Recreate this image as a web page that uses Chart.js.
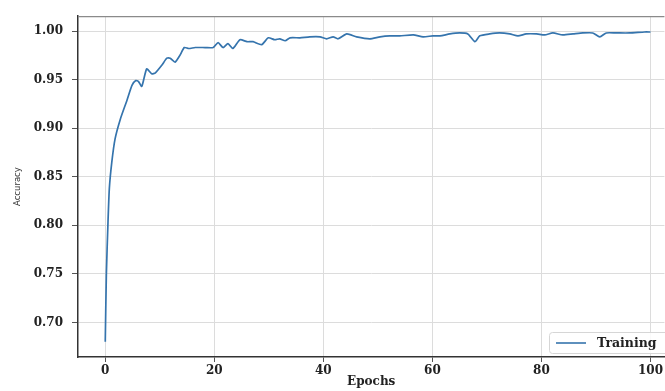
<!DOCTYPE html>
<html>
<head>
<meta charset="utf-8">
<script src="https://cdn.jsdelivr.net/npm/chart.js@4.4.1/dist/chart.umd.min.js"></script>
<style>
html,body{margin:0;padding:0;background:#fff;overflow:hidden;}
#c{display:block;}
</style>
</head>
<body>
<canvas id="c" width="665" height="391"></canvas>
<script>
const seriesLabel = 'Training';
const epochs = [0,0.2,0.5,0.75,1.2,1.8,2.75,4,4.9,5.6,6.1,6.7,7.6,8.5,9.2,10.4,11.3,11.9,12.8,13.7,14.5,15.3,16.5,18.3,19.8,20.7,21.6,22.5,23.4,24.7,26,27.1,28.7,29.9,31.1,32,33,33.9,35.7,37.5,39.4,40.6,41.8,42.7,44.3,46.1,48.5,50.4,52.2,54,56.5,58.3,60.1,61.4,63.2,65,66.5,67.8,68.7,70.5,72.3,74.2,75.7,77.2,79.1,80.6,82.1,83.9,85.8,87.6,89.4,90.7,91.9,93.7,96.2,98.9,100];
const accuracy = [0.680,0.749,0.803,0.838,0.865,0.889,0.909,0.929,0.944,0.949,0.948,0.943,0.961,0.956,0.957,0.965,0.972,0.972,0.968,0.975,0.983,0.982,0.983,0.983,0.983,0.988,0.983,0.987,0.982,0.991,0.989,0.989,0.986,0.993,0.991,0.992,0.990,0.993,0.993,0.994,0.994,0.992,0.994,0.992,0.997,0.994,0.992,0.994,0.995,0.995,0.996,0.994,0.995,0.995,0.997,0.998,0.997,0.989,0.995,0.997,0.998,0.997,0.995,0.997,0.997,0.996,0.998,0.996,0.997,0.998,0.998,0.994,0.998,0.998,0.998,0.999,0.999];
const xTicks = [0,20,40,60,80,100];
const yTicks = [0.70,0.75,0.80,0.85,0.90,0.95,1.00];
const yTickLabels = ['0.70','0.75','0.80','0.85','0.90','0.95','1.00'];
const xTitle = 'Epochs';
const yTitle = 'Accuracy';

const LINE_COLOR = '#3574ad';
const tickFont = {family:'DejaVu Serif', weight:'bold', size:12};

const framePlugin = {
  id:'frame',
  afterDatasetsDraw(chart){
    const {ctx, chartArea:a} = chart;
    ctx.save();
    ctx.strokeStyle = '#8a8a8a';
    ctx.lineWidth = 1.2;
    ctx.beginPath();
    ctx.moveTo(a.left, a.top + 0.5);
    ctx.lineTo(a.right, a.top + 0.5);
    ctx.stroke();
    ctx.restore();
  },
  afterDraw(chart){
    const {ctx} = chart;
    const ds = chart.data.datasets[0];
    const bx = 549, by = 332, bw = 125, bh = 21;
    ctx.save();
    ctx.fillStyle = 'rgba(255,255,255,0.85)';
    ctx.strokeStyle = '#d6d6d6';
    ctx.lineWidth = 1;
    ctx.beginPath();
    ctx.roundRect(bx + 0.5, by + 0.5, bw, bh, 3);
    ctx.fill();
    ctx.stroke();
    ctx.strokeStyle = ds.borderColor;
    ctx.lineWidth = 1.6;
    ctx.beginPath();
    ctx.moveTo(556, by + bh/2 + 0.5);
    ctx.lineTo(586, by + bh/2 + 0.5);
    ctx.stroke();
    ctx.fillStyle = '#222';
    ctx.font = 'bold 12.5px "DejaVu Serif"';
    ctx.textBaseline = 'middle';
    ctx.textAlign = 'left';
    ctx.fillText(ds.label, 597, by + bh/2 + 1);
    ctx.restore();
  }
};

new Chart(document.getElementById('c'), {
  type:'line',
  data:{
    datasets:[{
      label: seriesLabel,
      data: epochs.map((e,i)=>({x:e, y:accuracy[i]})),
      borderColor: LINE_COLOR,
      borderWidth: 1.7,
      pointRadius: 0,
      tension: 0.2,
      fill: false
    }]
  },
  options:{
    responsive:false,
    animation:false,
    layout:{padding:{left:0,right:0,top:12,bottom:0}},
    plugins:{legend:{display:false}, tooltip:{enabled:false}},
    scales:{
      x:{
        type:'linear',
        min:-5, max:102.56,
        afterBuildTicks(s){ s.ticks = xTicks.map(v=>({value:v})); },
        afterFit(s){ s.height = 34; },
        ticks:{font:tickFont, color:'#222', padding:2, maxRotation:0, autoSkip:false, callback:v=>String(v)},
        grid:{color:'#dcdcdc', lineWidth:1, tickLength:5, tickColor:'#555', drawTicks:true},
        border:{display:true, color:'#333', width:1.5},
        title:{display:true, text:xTitle, font:{family:'DejaVu Serif', weight:'bold', size:12}, color:'#222', padding:{top:0,bottom:2}}
      },
      y:{
        type:'linear',
        min:0.6644, max:1.01525,
        afterBuildTicks(s){ s.ticks = yTicks.map(v=>({value:v})); },
        afterFit(s){ s.width = 78; },
        ticks:{font:tickFont, color:'#222', padding:9, autoSkip:false,
          callback:(v)=>{ const i = yTicks.findIndex(t=>Math.abs(t-v)<1e-6); return i>=0 ? yTickLabels[i] : ''; }},
        grid:{color:'#dcdcdc', lineWidth:1, tickLength:6, tickColor:'#555', drawTicks:true},
        border:{display:true, color:'#333', width:1.5},
        title:{display:true, text:yTitle, font:{family:'DejaVu Sans', size:8.5}, color:'#333', padding:{top:13,bottom:0}}
      }
    }
  },
  plugins:[framePlugin]
});
</script>
</body>
</html>
